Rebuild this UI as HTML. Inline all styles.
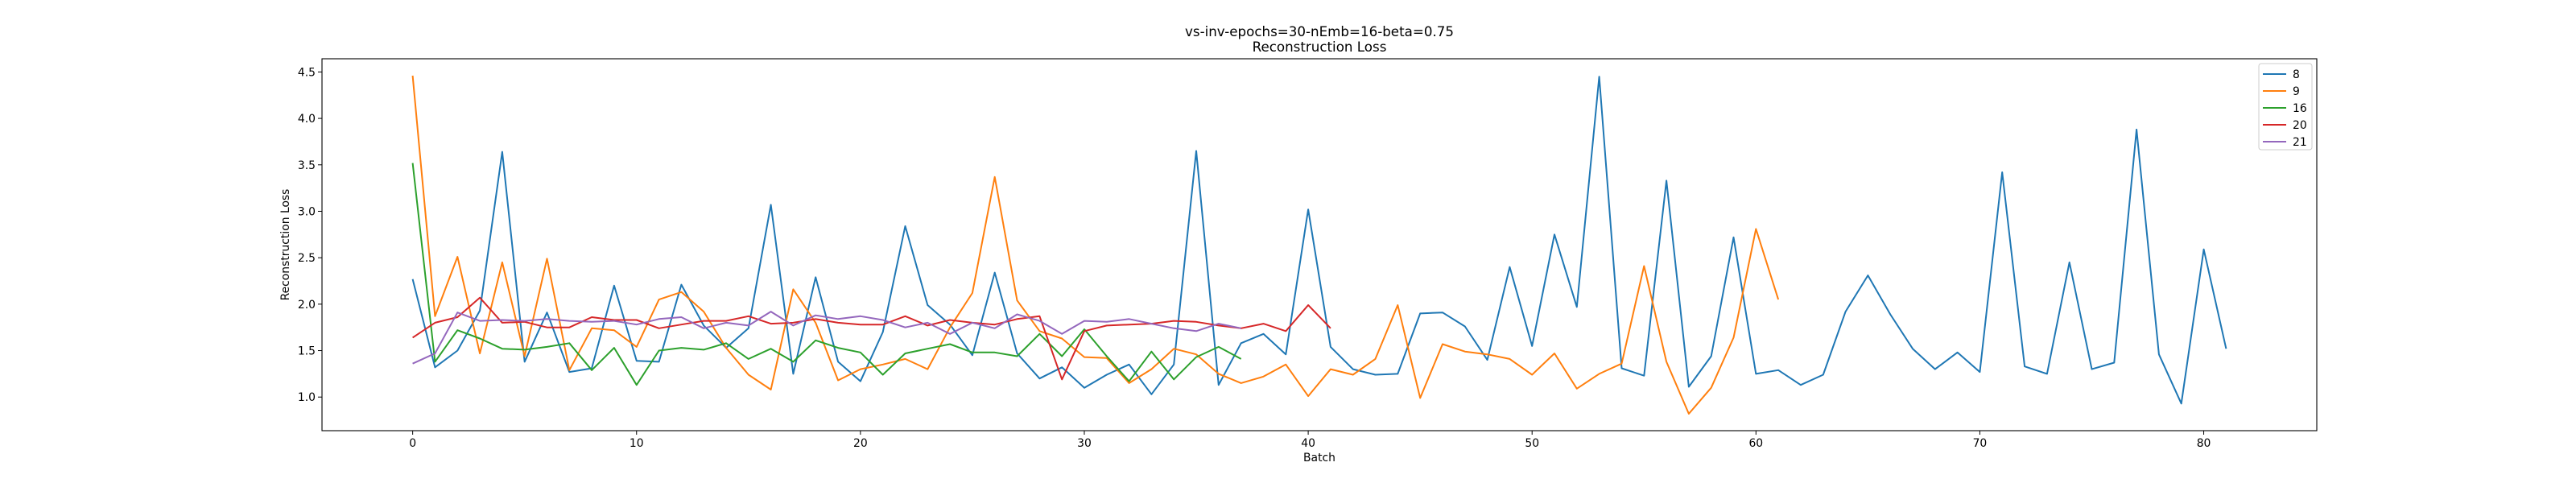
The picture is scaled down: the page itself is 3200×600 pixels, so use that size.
<!DOCTYPE html>
<html><head><meta charset="utf-8"><style>
html,body{margin:0;padding:0;background:#fff;}
svg{display:block;font-family:"DejaVu Sans","Liberation Sans",sans-serif;}
</style></head><body>
<svg id="chart" width="3200" height="600" xmlns="http://www.w3.org/2000/svg">
<rect width="3200" height="600" fill="#fff"/>
<text x="1639" y="45" text-anchor="middle" font-size="16.7">vs-inv-epochs=30-nEmb=16-beta=0.75</text>
<text x="1639" y="64" text-anchor="middle" font-size="16.7">Reconstruction Loss</text>
<g id="plot"></g>
<text x="1639" y="573" text-anchor="middle" font-size="13.9">Batch</text>
<text transform="translate(359,304) rotate(-90)" text-anchor="middle" font-size="13.9">Reconstruction Loss</text>
</svg>
<script>
const seriesNames = ["8","9","16","20","21"];
const seriesColors = ["#1f77b4","#ff7f0e","#2ca02c","#d62728","#9467bd"];
const s8 = [2.27,1.32,1.50,1.93,3.64,1.38,1.91,1.27,1.31,2.20,1.39,1.38,2.21,1.77,1.53,1.74,3.07,1.25,2.29,1.38,1.17,1.70,2.84,1.99,1.78,1.45,2.34,1.47,1.20,1.32,1.10,1.24,1.35,1.03,1.35,3.65,1.13,1.58,1.68,1.46,3.02,1.54,1.30,1.24,1.25,1.90,1.91,1.76,1.40,2.40,1.55,2.75,1.97,4.45,1.31,1.23,3.33,1.11,1.44,2.72,1.25,1.29,1.13,1.24,1.92,2.31,1.89,1.52,1.30,1.48,1.27,3.42,1.33,1.25,2.45,1.30,1.37,3.88,1.46,0.93,2.59,1.52];
const s9 = [4.46,1.87,2.51,1.47,2.45,1.44,2.49,1.29,1.74,1.72,1.54,2.05,2.13,1.92,1.53,1.24,1.08,2.16,1.80,1.18,1.30,1.35,1.41,1.30,1.75,2.12,3.37,2.04,1.71,1.63,1.43,1.42,1.15,1.30,1.52,1.46,1.25,1.15,1.22,1.35,1.01,1.30,1.24,1.41,1.99,0.99,1.57,1.49,1.46,1.41,1.24,1.47,1.09,1.25,1.36,2.41,1.38,0.82,1.10,1.64,2.81,2.05];
const s16 = [3.52,1.38,1.72,1.63,1.52,1.51,1.54,1.58,1.29,1.53,1.13,1.50,1.53,1.51,1.58,1.41,1.52,1.38,1.61,1.53,1.48,1.24,1.47,1.52,1.57,1.48,1.48,1.44,1.68,1.44,1.73,1.44,1.17,1.49,1.19,1.43,1.54,1.41];
const s20 = [1.64,1.80,1.86,2.07,1.80,1.81,1.75,1.75,1.86,1.83,1.83,1.74,1.78,1.82,1.82,1.87,1.79,1.80,1.84,1.80,1.78,1.78,1.87,1.77,1.83,1.80,1.78,1.84,1.87,1.19,1.71,1.77,1.78,1.79,1.82,1.81,1.77,1.74,1.79,1.71,1.99,1.74];
const s21 = [1.36,1.47,1.91,1.82,1.83,1.82,1.84,1.82,1.81,1.82,1.78,1.84,1.86,1.74,1.80,1.77,1.92,1.77,1.88,1.84,1.87,1.83,1.75,1.80,1.68,1.80,1.74,1.89,1.82,1.68,1.82,1.81,1.84,1.79,1.74,1.71,1.79,1.74];
const xTicks = [0,10,20,30,40,50,60,70,80];
const yTicks = [1.0,1.5,2.0,2.5,3.0,3.5,4.0,4.5];
const allSeries = [s8,s9,s16,s20,s21];

const L=400,R=2878,T=73,B=535;
let maxN=0,ymin=Infinity,ymax=-Infinity;
allSeries.forEach(s=>{maxN=Math.max(maxN,s.length-1);s.forEach(v=>{ymin=Math.min(ymin,v);ymax=Math.max(ymax,v);});});
const xm=maxN*0.05, ym=(ymax-ymin)*0.05;
const x0=-xm,x1=maxN+xm,y0=ymin-ym,y1=ymax+ym;
const X=v=>L+(v-x0)/(x1-x0)*(R-L);
const Y=v=>B-(v-y0)/(y1-y0)*(B-T);
const NS="http://www.w3.org/2000/svg";
const g=document.getElementById('plot');
function mk(t,a){const e=document.createElementNS(NS,t);for(const k in a)e.setAttribute(k,a[k]);return e;}

allSeries.forEach((s,i)=>{
  const p=mk('polyline',{points:s.map((v,j)=>X(j).toFixed(1)+','+Y(v).toFixed(1)).join(' '),fill:'none',stroke:seriesColors[i],'stroke-width':2,'stroke-linejoin':'round'});
  
  
  g.appendChild(p);
});
const frame=mk('rect',{x:L,y:T,width:R-L,height:B-T,fill:'none',stroke:'#000','stroke-width':1.1});


g.appendChild(frame);
xTicks.forEach(t=>{
  const ln=mk('line',{x1:X(t),x2:X(t),y1:B,y2:B+5,stroke:'#000','stroke-width':1});
  
  
  g.appendChild(ln);
  const tx=mk('text',{x:X(t),y:B+20,'text-anchor':'middle','font-size':13.9});
  tx.textContent=t;
  
  
  g.appendChild(tx);
});
yTicks.forEach(t=>{
  const ln=mk('line',{x1:L-5,x2:L,y1:Y(t),y2:Y(t),stroke:'#000','stroke-width':1});
  
  
  g.appendChild(ln);
  const tx=mk('text',{x:L-8,y:Y(t)+5,'text-anchor':'end','font-size':13.9});
  tx.textContent=t.toFixed(1);
  
  
  g.appendChild(tx);
});
const lg=mk('g',{});


lg.appendChild(mk('rect',{x:2806,y:79,width:66,height:107,rx:3,fill:'#fff','fill-opacity':0.8,stroke:'#ccc'}));
seriesNames.forEach((n,i)=>{
  const yy=92+i*21;
  const e=mk('g',{});
  
  
  e.appendChild(mk('line',{x1:2811,x2:2840,y1:yy,y2:yy,stroke:seriesColors[i],'stroke-width':2}));
  const tx=mk('text',{x:2848,y:yy+5,'font-size':13.9});
  tx.textContent=n;
  e.appendChild(tx);
  lg.appendChild(e);
});
g.appendChild(lg);
</script>
</body></html>
